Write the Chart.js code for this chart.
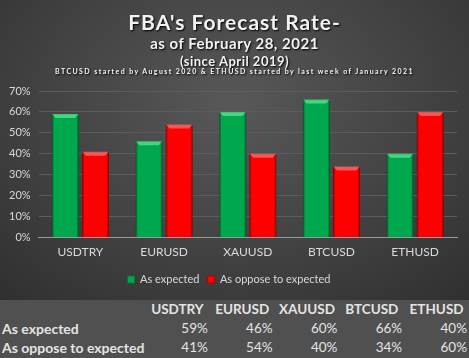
<!DOCTYPE html>
<html>
<head>
<meta charset="utf-8">
<script src="https://cdn.jsdelivr.net/npm/chart.js@4"></script>
<style>
  html, body { margin:0; padding:0; }
  body { width:469px; height:358px; overflow:hidden; font-family:Lato, "Open Sans", sans-serif; background:#505050; }
  #panel { position:relative; width:469px; height:300px;
    background: radial-gradient(ellipse 75% 90% at 50% 35%, #585858 0%, #424242 55%, #2f2f2f 100%); }
  #chart { position:absolute; left:0; top:0; }
  #titles { position:absolute; left:0; top:0; width:469px; text-align:center; color:#f2f2f2; font-weight:bold;
    text-shadow: 1px 1px 2px #000; }
  #titles .t1 { position:absolute; width:100%; top:9px; font-size:21px; letter-spacing:1px; }
  #titles .t2 { position:absolute; width:100%; top:34px; font-size:15px; letter-spacing:0.5px; }
  #titles .t3 { position:absolute; width:100%; top:53px; font-size:13px; letter-spacing:0.5px; }
  #titles .t4 { position:absolute; width:100%; top:67px; font-size:7px; letter-spacing:1.4px; }
  table { border-collapse:collapse; table-layout:fixed; width:469px; color:#e4e4e4; font-weight:bold; font-size:13.5px; }
  td, th { padding:0; height:19px; line-height:19px; white-space:nowrap; }
  th { text-align:center; font-weight:bold; }
  td.v { text-align:right; padding-right:2px; font-weight:normal; }
  td.lbl { text-align:left; padding-left:2px; font-size:14px; }
</style>
</head>
<body>
<div id="panel">
  <canvas id="chart" width="469" height="300"></canvas>
  <div id="titles">
    <div class="t1">FBA's Forecast Rate-</div>
    <div class="t2">as of February 28, 2021</div>
    <div class="t3">(since April 2019)</div>
    <div class="t4">BTCUSD started by August 2020 &amp; ETHUSD started by last week of January 2021</div>
  </div>
</div>
<table id="tbl">
  <colgroup><col style="width:145px"><col span="5" style="width:64.8px"></colgroup>
</table>
<script>
// ---- data ----
const PAIRS = ["USDTRY", "EURUSD", "XAUUSD", "BTCUSD", "ETHUSD"];
const AS_EXPECTED = [59, 46, 60, 66, 40];
const AS_OPPOSE = [41, 54, 40, 34, 60];
const SERIES_NAMES = ["As expected", "As oppose to expected"];
const Y_TICKS = [0, 10, 20, 30, 40, 50, 60, 70];

const GREEN = "#00a84d";
const RED = "#ff0000";
const TEXT = "#d9d9d9";

// bevel highlight along top of each bar
const bevel = {
  id: "bevel",
  afterDatasetsDraw(chart) {
    const ctx = chart.ctx;
    chart.data.datasets.forEach((ds, i) => {
      const meta = chart.getDatasetMeta(i);
      meta.data.forEach(bar => {
        const w = bar.width, l = bar.x - w / 2, t = bar.y;
        ctx.save();
        ctx.fillStyle = i === 0 ? "rgba(120,255,170,0.55)" : "rgba(255,140,140,0.6)";
        ctx.beginPath();
        ctx.moveTo(l, t); ctx.lineTo(l + w, t);
        ctx.lineTo(l + w - 4, t + 4); ctx.lineTo(l + 4, t + 4);
        ctx.closePath(); ctx.fill();
        ctx.fillStyle = "rgba(0,0,0,0.18)";
        ctx.fillRect(l, t, 2, bar.base - t);
        ctx.fillRect(l + w - 2, t, 2, bar.base - t);
        ctx.restore();
      });
    });
  }
};

new Chart(document.getElementById("chart"), {
  type: "bar",
  data: {
    labels: PAIRS,
    datasets: [
      { label: SERIES_NAMES[0], data: AS_EXPECTED, backgroundColor: GREEN, borderColor: "#007a36", borderWidth: 1 },
      { label: SERIES_NAMES[1], data: AS_OPPOSE, backgroundColor: RED, borderColor: "#b00000", borderWidth: 1 }
    ]
  },
  options: {
    responsive: false,
    animation: false,
    layout: { padding: { top: 91, left: 1, right: 12, bottom: 5 } },
    datasets: { bar: { categoryPercentage: 0.72, barPercentage: 0.9 } },
    scales: {
      y: {
        min: 0, max: 70,
        afterBuildTicks: (ax) => { ax.ticks = Y_TICKS.map(v => ({ value: v })); },
        ticks: { color: TEXT, font: { family: "Lato", size: 11 }, callback: v => v + "%", padding: 8 },
        grid: { color: "#5c5c5c", drawTicks: false },
        border: { display: false }
      },
      x: {
        ticks: { color: TEXT, font: { family: "Lato", size: 12 }, padding: 7 },
        grid: { display: false, drawTicks: false },
        border: { color: "#9a9a9a", width: 1 }
      }
    },
    plugins: {
      legend: {
        position: "bottom",
        labels: { color: TEXT, font: { family: "Lato", size: 11 }, boxWidth: 7, boxHeight: 7, padding: 8 }
      },
      tooltip: { enabled: false }
    }
  },
  plugins: [bevel]
});

// ---- data table ----
const tbl = document.getElementById("tbl");
let html = "<tr><td class='lbl'></td>" + PAIRS.map(p => `<th>${p}</th>`).join("") + "</tr>";
[[SERIES_NAMES[0], AS_EXPECTED], [SERIES_NAMES[1], AS_OPPOSE]].forEach(([name, vals]) => {
  html += `<tr><td class="lbl">${name}</td>` + vals.map(v => `<td class="v">${v}%</td>`).join("") + "</tr>";
});
tbl.insertAdjacentHTML("beforeend", html);
</script>
</body>
</html>
